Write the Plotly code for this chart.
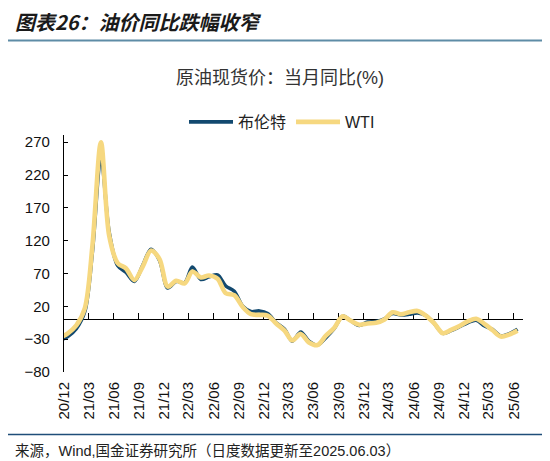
import plotly.graph_objects as go

# monthly YoY (%), point placed mid-month; first point (2020-11) is clipped by the axis range
months = [
    "2020-11", "2020-12",
    "2021-01", "2021-02", "2021-03", "2021-04", "2021-05", "2021-06",
    "2021-07", "2021-08", "2021-09", "2021-10", "2021-11", "2021-12",
    "2022-01", "2022-02", "2022-03", "2022-04", "2022-05", "2022-06",
    "2022-07", "2022-08", "2022-09", "2022-10", "2022-11", "2022-12",
    "2023-01", "2023-02", "2023-03", "2023-04", "2023-05", "2023-06",
    "2023-07", "2023-08", "2023-09", "2023-10", "2023-11", "2023-12",
    "2024-01", "2024-02", "2024-03", "2024-04", "2024-05", "2024-06",
    "2024-07", "2024-08", "2024-09", "2024-10", "2024-11", "2024-12",
    "2025-01", "2025-02", "2025-03", "2025-04", "2025-05", "2025-06",
]
brent = [
    -32, -26,
    -14, 12, 104, 248, 133, 82, 72, 58, 83, 107, 90, 48,
    58, 56, 80, 61, 65, 68, 51, 43, 20, 12, 13, 9,
    -5, -15, -33, -19, -33, -39, -28, -14, 5, -2, -9, -4,
    -3, 1, 9, 7, 8, 10, 6, -6, -21, -17, -11, -5,
    -1, -10, -15, -25, -22, -15,
]
wti = [
    -28, -21,
    -9, 17, 113, 270, 128, 86, 78, 60, 81, 105, 92, 50,
    59, 55, 73, 64, 67, 62, 40, 37, 19, 8, 7, 6,
    -6, -17, -32, -22, -35, -39, -25, -13, 5, -2, -8, -6,
    -5, 0, 11, 8, 11, 13, 6, -6, -21, -16, -10, -3,
    1, -7, -16, -26, -23, -17,
]
tick_dates = [
    "2020-12-01", "2021-03-01", "2021-06-01", "2021-09-01", "2021-12-01",
    "2022-03-01", "2022-06-01", "2022-09-01", "2022-12-01", "2023-03-01",
    "2023-06-01", "2023-09-01", "2023-12-01", "2024-03-01", "2024-06-01",
    "2024-09-01", "2024-12-01", "2025-03-01", "2025-06-01",
]
tick_text = [
    "20/12", "21/03", "21/06", "21/09", "21/12", "22/03", "22/06", "22/09",
    "22/12", "23/03", "23/06", "23/09", "23/12", "24/03", "24/06", "24/09",
    "24/12", "25/03", "25/06",
]
y_ticks = [-80, -30, 20, 70, 120, 170, 220, 270]

dates = [m + "-15" for m in months]
x_range = ["2020-12-01", "2025-07-05"]
y_range = [-80, 281]

CJK = "Liberation Sans, Noto Sans CJK SC"

fig = go.Figure()
fig.add_trace(go.Scatter(
    x=dates, y=brent, name="布伦特", mode="lines",
    line=dict(color="#12496F", width=3.6, shape="spline", smoothing=0.9),
    xaxis="x", yaxis="y",
))
fig.add_trace(go.Scatter(
    x=dates, y=wti, name="WTI", mode="lines",
    line=dict(color="#F6D880", width=4.6, shape="spline", smoothing=0.9),
    xaxis="x2", yaxis="y",
))

# pixel -> paper helpers (plot area 56..515 x 127..364)
L, R, T, B = 56, 35, 127, 97
W, H = 550 - L - R, 461 - T - B


def px_x(p):
    return (p - L) / W


def px_y(p):
    return (461 - B - p) / H


fig.update_layout(
    width=550, height=461,
    margin=dict(l=L, r=R, t=T, b=B),
    paper_bgcolor="white", plot_bgcolor="white",
    title=dict(
        text="图表26：油价同比跌幅收窄",
        font=dict(family="Noto Sans CJK SC", size=20, color="#1a1a1a",
                  weight="bold", style="italic"),
        xref="container", yref="container",
        x=7 / 550, y=1 - 15 / 461, xanchor="left", yanchor="middle",
    ),
    legend=dict(
        orientation="h", x=px_x(274), y=px_y(114),
        xanchor="center", yanchor="middle",
        font=dict(family=CJK, size=16, color="#222"),
        itemwidth=44, bgcolor="rgba(0,0,0,0)",
    ),
    xaxis=dict(
        type="date", range=x_range,
        tickvals=tick_dates, ticktext=tick_text, tickangle=-90,
        ticks="", showline=False, showgrid=False, zeroline=False,
        tickfont=dict(family="Liberation Sans", size=15, color="#111"),
        ticklabelstandoff=6,
    ),
    xaxis2=dict(
        type="date", range=x_range, matches="x", overlaying="x",
        anchor="free", position=(0 - y_range[0]) / (y_range[1] - y_range[0]),
        side="bottom", tickvals=tick_dates, showticklabels=False,
        ticks="inside", ticklen=6, tickcolor="#000", tickwidth=1,
        showline=True, linecolor="#000", linewidth=1.3,
        showgrid=False, zeroline=False, layer="below traces",
    ),
    yaxis=dict(
        range=y_range, tickvals=y_ticks,
        ticks="inside", ticklen=4, tickcolor="#000",
        showline=True, linecolor="#000", linewidth=1.3,
        showgrid=False, zeroline=False,
        tickfont=dict(family="Liberation Sans", size=15, color="#111"),
        ticklabelstandoff=10,
    ),
    shapes=[
        dict(type="line", xref="paper", yref="paper",
             x0=px_x(0), x1=px_x(550), y0=px_y(32.5), y1=px_y(32.5),
             line=dict(color="#5E8CA6", width=2)),
        dict(type="line", xref="paper", yref="paper",
             x0=px_x(0), x1=px_x(550), y0=px_y(426.5), y1=px_y(426.5),
             line=dict(color="#1F4E79", width=1.5)),
    ],
    annotations=[
        dict(text="原油现货价：当月同比(%)", xref="paper", yref="paper",
             x=px_x(272), y=px_y(70), xanchor="center", yanchor="middle",
             showarrow=False,
             font=dict(family=CJK, size=18, color="#333")),
        dict(text="来源，Wind,国金证券研究所（日度数据更新至2025.06.03）",
             xref="paper", yref="paper",
             x=px_x(5), y=px_y(443), xanchor="left", yanchor="middle",
             showarrow=False,
             font=dict(family=CJK, size=14.5, color="#222")),
    ],
)

fig.write_html("out.html")
